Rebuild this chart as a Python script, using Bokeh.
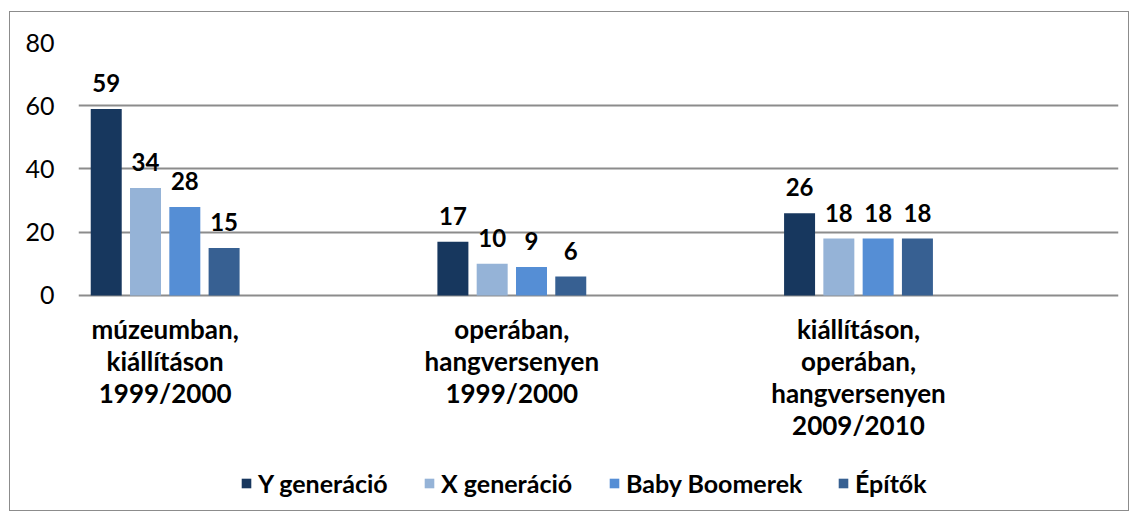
from bokeh.plotting import figure
from bokeh.models import ColumnDataSource, FixedTicker, Legend, LegendItem, Range1d
from bokeh.core.properties import value
from bokeh.transform import dodge
from bokeh.embed import file_html
from bokeh.resources import INLINE

categories = [
    "múzeumban,\nkiállításon\n1999/2000",
    "operában,\nhangversenyen\n1999/2000",
    "kiállításon,\noperában,\nhangversenyen\n2009/2010",
]
series_names = ["Y generáció", "X generáció", "Baby Boomerek", "Építők"]
y_generacio = [59, 17, 26]
x_generacio = [34, 10, 18]
baby_boomerek = [28, 9, 18]
epitok = [15, 6, 18]
series_values = [y_generacio, x_generacio, baby_boomerek, epitok]
colors = ["#17375E", "#95B3D7", "#558ED5", "#376092"]
y_ticks = [0, 20, 40, 60, 80]

cat_x = list(range(len(categories)))
offsets = [-0.170, -0.0567, 0.0567, 0.170]
bar_width = 0.0894
legend_x = [162, 345, 530, 759]  # screen px from frame left

p = figure(
    width=1120, height=500,
    x_range=Range1d(-0.25, 2.75), y_range=Range1d(-68.0, 80),
    output_backend="svg", toolbar_location=None,
    x_axis_location=None,
    min_border_left=68, min_border_right=12, min_border_top=30, min_border_bottom=2,
)
p.styles = {"border": "1px solid #8c8c8c", "margin-left": "9px", "margin-top": "11px"}
p.outline_line_color = None
p.background_fill_color = "white"
p.border_fill_color = "white"

p.xgrid.visible = False
p.yaxis.ticker = FixedTicker(ticks=y_ticks)
p.ygrid.ticker = FixedTicker(ticks=y_ticks)
p.ygrid.grid_line_color = "#8c8c8c"
p.ygrid.grid_line_width = 2
p.yaxis.axis_line_color = None
p.yaxis.major_tick_line_color = None
p.yaxis.minor_tick_line_color = None
p.yaxis.major_label_standoff = 18
p.yaxis.major_label_text_font = "Lato"
p.yaxis.major_label_text_font_size = "25px"
p.yaxis.major_label_text_color = "black"

renderers = []
for name, vals, col, off in zip(series_names, series_values, colors, offsets):
    src = ColumnDataSource(dict(x=cat_x, y=vals, label=[str(v) for v in vals]))
    r = p.vbar(x=dodge("x", off, range=p.x_range), top="y", width=bar_width,
               source=src, fill_color=col, line_color=None)
    renderers.append(r)
    p.text(x=dodge("x", off, range=p.x_range), y="y", text="label", source=src,
           text_align="center", text_baseline="alphabetic", y_offset=-26,
           text_font=value("Lato"), text_font_style="bold", text_font_size="24px",
           text_color="black")

cat_src = ColumnDataSource(dict(x=cat_x, y=[0] * len(categories), text=categories))
p.text(x="x", y="y", text="text", source=cat_src,
       text_align="center", text_baseline="top", y_offset=18,
       text_line_height=1.0,
       text_font=value("Lato"), text_font_style="bold", text_font_size="26px",
       text_color="black")

for name, r, lx in zip(series_names, renderers, legend_x):
    legend = Legend(
        items=[LegendItem(label=name, renderers=[r])],
        orientation="horizontal", location=(lx, 12),
        label_text_font="Lato", label_text_font_style="bold", label_text_font_size="25px",
        label_text_color="black",
        glyph_width=12, glyph_height=12, label_standoff=6, spacing=0,
        padding=0, margin=0, border_line_color=None, background_fill_alpha=0,
    )
    p.add_layout(legend)

open("out.html", "w").write(file_html(p, INLINE))
